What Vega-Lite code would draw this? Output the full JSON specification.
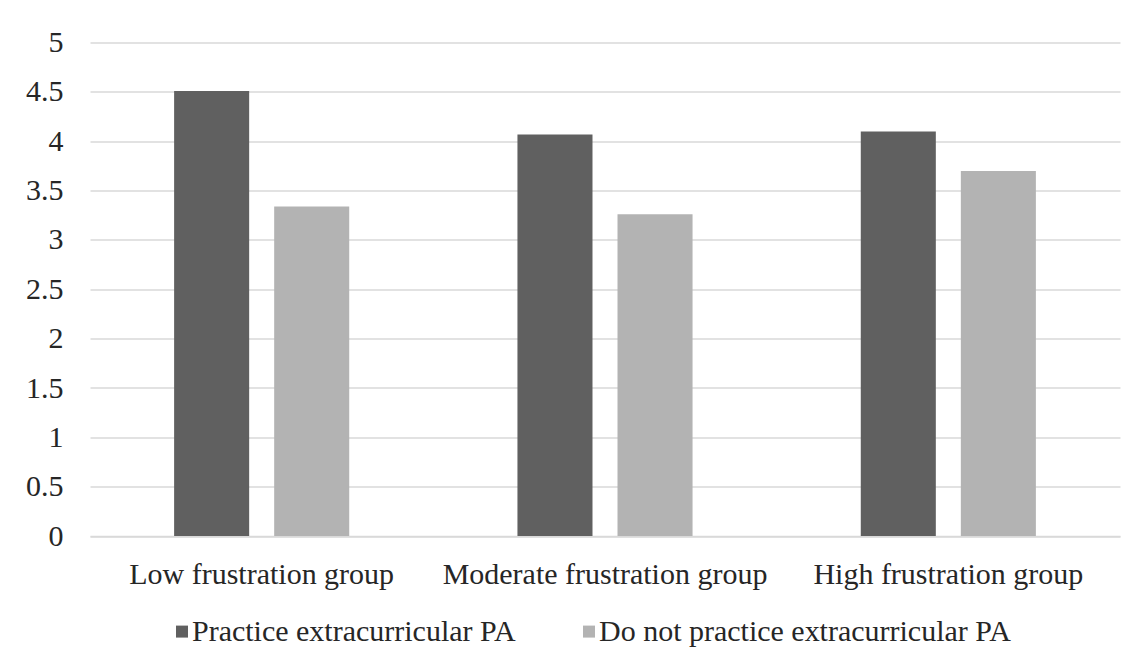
{
  "$schema": "https://vega.github.io/schema/vega-lite/v6.json",
  "width": 1030,
  "height": 493.5,
  "autosize": {"type": "none"},
  "padding": {"left": 90, "top": 42.6, "right": 26, "bottom": 132},
  "background": "white",
  "data": {
    "values": [
      {"group": "Low frustration group", "series": "Practice extracurricular PA", "value": 4.51},
      {"group": "Low frustration group", "series": "Do not practice extracurricular PA", "value": 3.34},
      {"group": "Moderate frustration group", "series": "Practice extracurricular PA", "value": 4.07},
      {"group": "Moderate frustration group", "series": "Do not practice extracurricular PA", "value": 3.26},
      {"group": "High frustration group", "series": "Practice extracurricular PA", "value": 4.10},
      {"group": "High frustration group", "series": "Do not practice extracurricular PA", "value": 3.70}
    ]
  },
  "mark": {"type": "bar"},
  "encoding": {
    "x": {
      "field": "group", "type": "nominal", "sort": null, "title": null,
      "scale": {"paddingInner": 0.49, "paddingOuter": 0.245},
      "axis": {"labelAngle": 0, "ticks": false, "domainColor": "#d9d9d9", "domainWidth": 1.5, "labelPadding": 23, "labelLimit": 0}
    },
    "xOffset": {
      "field": "series", "type": "nominal", "sort": ["Practice extracurricular PA", "Do not practice extracurricular PA"],
      "scale": {"paddingInner": 0.25, "paddingOuter": 0}
    },
    "y": {
      "field": "value", "type": "quantitative", "title": null,
      "scale": {"domain": [0, 5], "nice": false},
      "axis": {"values": [0, 0.5, 1, 1.5, 2, 2.5, 3, 3.5, 4, 4.5, 5], "format": "~g", "domain": false, "ticks": false, "labelPadding": 27, "gridColor": "#d9d9d9", "gridWidth": 1.5}
    },
    "color": {
      "field": "series", "type": "nominal", "sort": ["Practice extracurricular PA", "Do not practice extracurricular PA"],
      "scale": {"range": ["#606060", "#b3b3b3"]},
      "legend": {
        "title": null, "orient": "none", "direction": "horizontal",
        "legendX": 77, "legendY": 574,
        "symbolType": "square", "symbolSize": 144, "symbolStrokeWidth": 0,
        "labelOffset": -5, "columnPadding": 58
      }
    }
  },
  "config": {
    "view": {"stroke": null},
    "font": "Times New Roman",
    "axis": {"labelFont": "Times New Roman", "labelFontSize": 30, "labelColor": "#262626", "grid": true},
    "axisX": {"grid": false},
    "legend": {"labelFont": "Times New Roman", "labelFontSize": 30, "labelColor": "#262626", "labelLimit": 0}
  }
}
